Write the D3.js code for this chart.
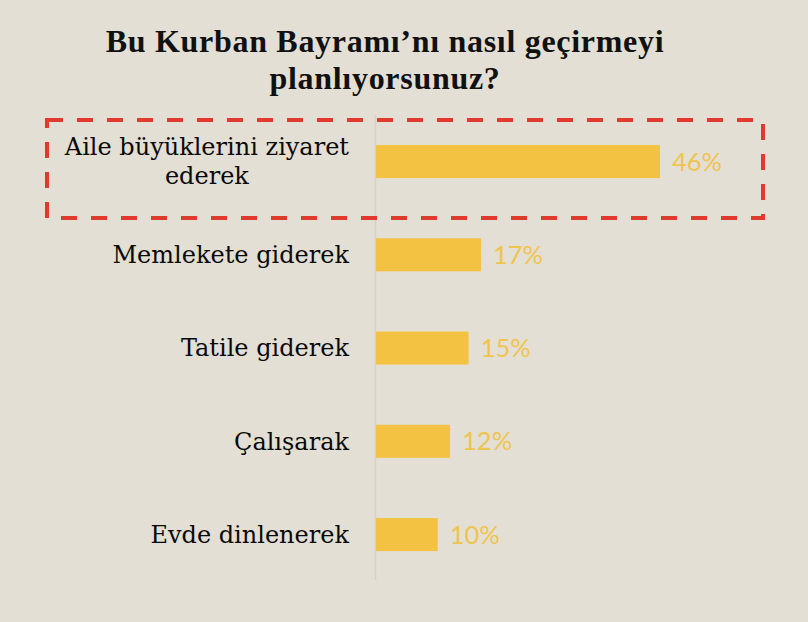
<!DOCTYPE html>
<html>
<head>
<meta charset="utf-8">
<script src="https://cdn.jsdelivr.net/npm/d3@7"></script>
<style>
  body { margin: 0; background: #e4dfd4; }
  svg { display: block; }
</style>
</head>
<body>
<div id="chart"></div>
<script>
// survey answers, top to bottom
var categories = [
  ['Aile büyüklerini ziyaret', 'ederek'],
  ['Memlekete giderek'],
  ['Tatile giderek'],
  ['Çalışarak'],
  ['Evde dinlenerek']
];
var values = [46, 17, 15, 12, 10];
var titleLines = ['Bu Kurban Bayramı’nı nasıl geçirmeyi', 'planlıyorsunuz?'];

var width = 808, height = 622;
var svg = d3.select('#chart').append('svg')
  .attr('width', width)
  .attr('height', height);

svg.append('rect')
  .attr('width', width).attr('height', height)
  .attr('fill', '#e4dfd4');

svg.append('text')
  .attr('x', 385)
  .attr('y', 52)
  .attr('text-anchor', 'middle')
  .style('font-family', '"Liberation Serif", serif')
  .style('font-weight', 'bold')
  .style('font-size', '32px')
  .style('letter-spacing', '0.7px')
  .attr('fill', '#111')
  .selectAll('tspan')
  .data(titleLines)
  .enter().append('tspan')
  .attr('x', 385)
  .attr('dy', function(d, i) { return i === 0 ? 0 : 37; })
  .text(function(d) { return d; });

var x = d3.scaleLinear().domain([0, 46]).range([376, 660]);
var y = d3.scaleBand()
  .domain(d3.range(values.length))
  .range([98.4, 597.7])
  .paddingInner(0.646)
  .paddingOuter(0.5);

// light vertical axis
svg.append('line')
  .attr('x1', 375.5).attr('x2', 375.5)
  .attr('y1', 115).attr('y2', 580)
  .attr('stroke', '#d6d1c6')
  .attr('stroke-width', 1.5);

svg.selectAll('rect.bar')
  .data(values)
  .enter().append('rect')
  .attr('class', 'bar')
  .attr('x', x(0))
  .attr('y', function(d, i) { return y(i); })
  .attr('width', function(d) { return x(d) - x(0); })
  .attr('height', y.bandwidth())
  .attr('fill', '#f4c243');

svg.selectAll('text.val')
  .data(values)
  .enter().append('text')
  .attr('class', 'val')
  .attr('x', function(d) { return x(d) + 12; })
  .attr('y', function(d, i) { return y(i) + y.bandwidth() / 2; })
  .attr('dy', '0.36em')
  .style('font-family', 'Lato, sans-serif')
  .style('font-size', '25.5px')
  .attr('fill', '#eec44f')
  .text(function(d) { return d + '%'; });

var labelRight = 349;
var lineH = 29;
var labels = svg.selectAll('g.lab')
  .data(categories)
  .enter().append('g')
  .attr('class', 'lab');

labels.each(function(lines, i) {
  var g = d3.select(this);
  var cy = y(i) + y.bandwidth() / 2;
  var t = g.append('text')
    .attr('text-anchor', 'middle')
    .style('font-family', '"DejaVu Serif", serif')
    .style('font-size', '24px')
    .attr('fill', '#0a0a0a');
  var spans = t.selectAll('tspan').data(lines).enter().append('tspan')
    .text(function(d) { return d; });
  var maxW = 0;
  spans.each(function() { maxW = Math.max(maxW, this.getComputedTextLength()); });
  var cx = labelRight - maxW / 2;
  var top = cy - (lines.length - 1) * lineH / 2;
  spans.attr('x', cx)
    .attr('y', function(d, j) { return top + j * lineH; })
    .attr('dy', '0.35em');
});

// highlight around the first answer
svg.append('rect')
  .attr('x', 47).attr('y', 120)
  .attr('width', 716).attr('height', 98)
  .attr('fill', 'none')
  .attr('stroke', '#e0392d')
  .attr('stroke-width', 4)
  .attr('stroke-dasharray', '16,14');
</script>
</body>
</html>
